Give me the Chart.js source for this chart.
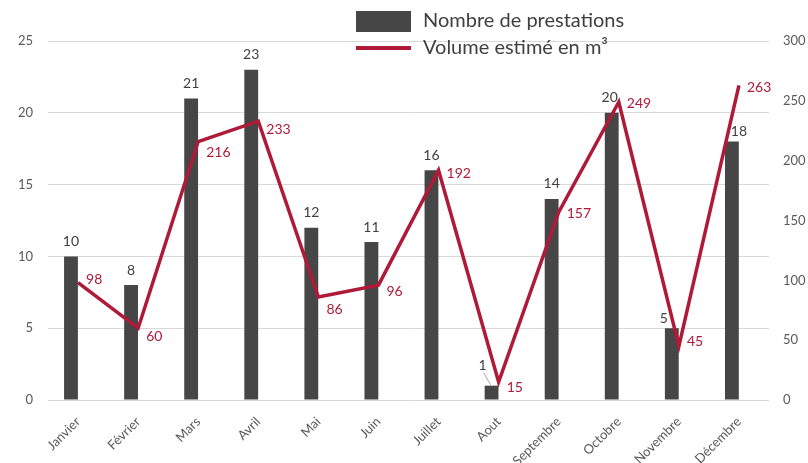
<!DOCTYPE html>
<html><head><meta charset="utf-8">
<script src="https://cdn.jsdelivr.net/npm/chart.js@4/dist/chart.umd.min.js"></script>
<style>html,body{margin:0;padding:0;background:#fff}#wrap{width:808px;height:463px;position:relative}</style>
</head><body><div id="wrap"><canvas id="c"></canvas></div>
<script>
const months = ['Janvier','Février','Mars','Avril','Mai','Juin','Juillet','Aout','Septembre','Octobre','Novembre','Décembre'];
const prestations = [10,8,21,23,12,11,16,1,14,20,5,18];
const volumes = [98,60,216,233,86,96,192,15,157,249,45,263];
const seriesNames = ['Nombre de prestations','Volume estimé en m³'];
const leftAxis = {min:0, max:25, step:5};
const rightAxis = {min:0, max:300, step:50};

const BAR = '#464646', RED = '#ae1a37', TXT = '#404040', TICK = '#595959';
// label placement tweaks (style, not data)
const lineLabelDy = [-3,8,11,8,12,6,3,5,1,1,-5,2];
const barLabelDx = [0,0,0,0,0,0,0,-9,0,-2,-8,7];
const barLabelDy = [-15,-15,-15,-15,-15,-15,-15,-20,-15,-15,-10,-10];

Chart.defaults.font.family = 'Lato, "Open Sans", sans-serif';

const labelsPlugin = {
  id:'labels',
  afterDatasetsDraw(chart){
    const ctx = chart.ctx;
    ctx.save();
    const bm = chart.getDatasetMeta(0);
    ctx.font = '14px Lato';
    ctx.fillStyle = TXT;
    ctx.textAlign='center'; ctx.textBaseline='middle';
    bm.data.forEach((el,i)=>{
      const x = el.x + barLabelDx[i], y = el.y + barLabelDy[i];
      if (i === 7) {
        ctx.strokeStyle = '#a6a6a6'; ctx.lineWidth = 1;
        ctx.beginPath(); ctx.moveTo(x+1, y+7); ctx.lineTo(el.x-1, el.y-1); ctx.stroke();
      }
      ctx.fillText(String(prestations[i]), x, y);
    });
    const lm = chart.getDatasetMeta(1);
    ctx.fillStyle = RED; ctx.textAlign='left';
    lm.data.forEach((el,i)=>{
      ctx.fillText(String(volumes[i]), el.x + 8, el.y + lineLabelDy[i]);
    });
    ctx.restore();
  },
  afterDraw(chart){
    const ctx = chart.ctx;
    ctx.save();
    ctx.fillStyle = BAR;
    ctx.fillRect(356, 11, 55, 21);
    ctx.strokeStyle = RED; ctx.lineWidth = 4;
    ctx.beginPath(); ctx.moveTo(356, 48); ctx.lineTo(411, 48); ctx.stroke();
    ctx.font = '20px Lato'; ctx.fillStyle = TXT;
    ctx.textAlign='left'; ctx.textBaseline='middle';
    ctx.fillText(seriesNames[0], 423, 21);
    ctx.fillText(seriesNames[1], 423, 48);
    ctx.restore();
  }
};

new Chart(document.getElementById('c'), {
  data:{
    labels: months,
    datasets:[
      {type:'bar', label:seriesNames[0], data:prestations, backgroundColor:BAR, yAxisID:'y', order:2,
       categoryPercentage:0.47, barPercentage:0.98},
      {type:'line', label:seriesNames[1], data:volumes, borderColor:RED, borderWidth:3.5, pointRadius:0,
       tension:0, yAxisID:'y2', order:0, borderJoinStyle:'miter'},
      {type:'bar', label:'', data:months.map(()=>null), yAxisID:'y', order:3,
       categoryPercentage:0.47, barPercentage:0.98}
    ]
  },
  options:{
    responsive:true, maintainAspectRatio:false, animation:false, devicePixelRatio:1,
    layout:{padding:{top:41,left:0,right:0,bottom:0}},
    plugins:{legend:{display:false}, tooltip:{enabled:false}},
    scales:{
      x:{grid:{display:false}, border:{display:false},
         ticks:{color:TICK, font:{size:13}, maxRotation:45, minRotation:45, autoSkip:false, padding:6},
         afterFit(s){ s.height = 63; }},
      y:{position:'left', min:leftAxis.min, max:leftAxis.max,
         ticks:{stepSize:leftAxis.step, color:TICK, font:{size:13}, padding:15},
         grid:{color:'#d9d9d9', drawTicks:false}, border:{display:false},
         afterFit(s){ s.width = 48; }},
      y2:{position:'right', min:rightAxis.min, max:rightAxis.max,
         ticks:{stepSize:rightAxis.step, color:TICK, font:{size:13}, padding:14},
         grid:{drawOnChartArea:false, drawTicks:false}, border:{display:false},
         afterFit(s){ s.width = 39; }}
    }
  },
  plugins:[labelsPlugin]
});
</script></body></html>
